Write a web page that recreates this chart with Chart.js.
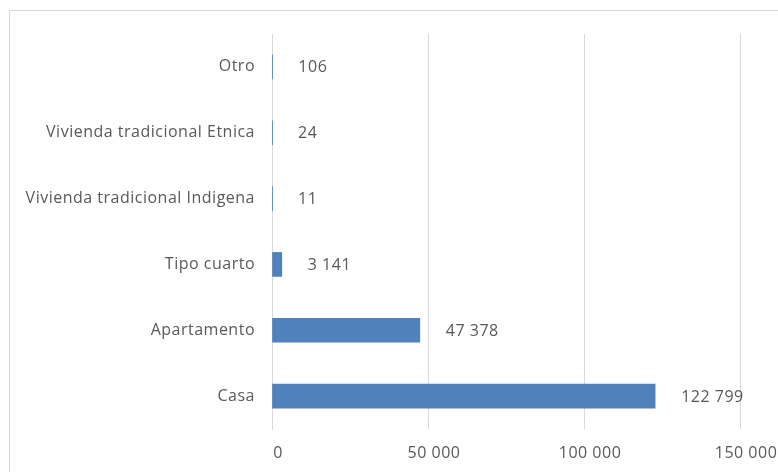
<!DOCTYPE html>
<html>
<head>
<meta charset="utf-8">
<script src="https://cdn.jsdelivr.net/npm/chart.js@4/dist/chart.umd.min.js"></script>
<style>
  html, body { margin: 0; padding: 0; background: #fff; overflow: hidden; }
  #wrap { position: relative; width: 778px; height: 472px; }
  #frame { position: absolute; left: 9px; top: 10px; width: 900px; height: 600px; border: 1px solid #d9d9d9; box-sizing: border-box; }
  canvas { position: absolute; left: 0; top: 0; }
</style>
</head>
<body>
<div id="wrap">
  <div id="frame"></div>
  <canvas id="chart" width="778" height="472"></canvas>
</div>
<script>
// categories, top to bottom
const categories = ["Otro", "Vivienda tradicional Etnica", "Vivienda tradicional Indigena", "Tipo cuarto", "Apartamento", "Casa"];
const viviendas = [106, 24, 11, 3141, 47378, 122799];
const xTicks = [0, 50000, 100000, 150000];

const textColor = "#595959";
const gridColor = "#d9d9d9";
const fontFamily = "'Open Sans', sans-serif";
const fontSize = 16;
const letterGap = "0.5px";

// "122799" -> "122 799"
function fmt(v) {
  return String(v).replace(/\B(?=(\d{3})+(?!\d))/g, " ");
}

// slightly looser text everywhere
const spacing = {
  id: "spacing",
  beforeDraw(chart) { chart.ctx.letterSpacing = letterGap; }
};

// value label to the right of each bar
const valueLabels = {
  id: "valueLabels",
  afterDatasetsDraw(chart) {
    const ctx = chart.ctx;
    const meta = chart.getDatasetMeta(0);
    ctx.save();
    ctx.letterSpacing = letterGap;
    ctx.font = fontSize + "px " + fontFamily;
    ctx.fillStyle = textColor;
    ctx.textAlign = "left";
    ctx.textBaseline = "middle";
    meta.data.forEach((bar, i) => {
      ctx.fillText(fmt(viviendas[i]), bar.x + 26, bar.y + 1);
    });
    ctx.restore();
  }
};

const ctx = document.getElementById("chart").getContext("2d");
new Chart(ctx, {
  type: "bar",
  data: {
    labels: categories,
    datasets: [{
      data: viviendas,
      backgroundColor: "#4f81bd",
      borderWidth: 0,
      barThickness: 24
    }]
  },
  options: {
    indexAxis: "y",
    responsive: false,
    animation: false,
    layout: { padding: { left: 0, top: 34, right: 38, bottom: 0 } },
    plugins: {
      legend: { display: false },
      tooltip: { enabled: false }
    },
    scales: {
      x: {
        min: 0,
        max: 150000,
        afterBuildTicks(scale) {
          scale.ticks = xTicks.map(v => ({ value: v }));
        },
        afterFit(scale) {
          scale.height = 43;
          scale.paddingLeft = 0;
          scale.paddingRight = 0;
        },
        grid: { color: gridColor, lineWidth: 1, drawTicks: false },
        border: { display: false },
        ticks: {
          color: textColor,
          font: { family: fontFamily, size: fontSize },
          padding: 15,
          labelOffset: 6,
          maxRotation: 0,
          callback: v => fmt(v)
        }
      },
      y: {
        afterFit(scale) { scale.width = 272; },
        grid: { display: false, drawTicks: false },
        border: { display: true, color: gridColor, width: 1 },
        ticks: {
          color: textColor,
          font: { family: fontFamily, size: fontSize },
          padding: 17
        }
      }
    }
  },
  plugins: [spacing, valueLabels]
});
</script>
</body>
</html>
